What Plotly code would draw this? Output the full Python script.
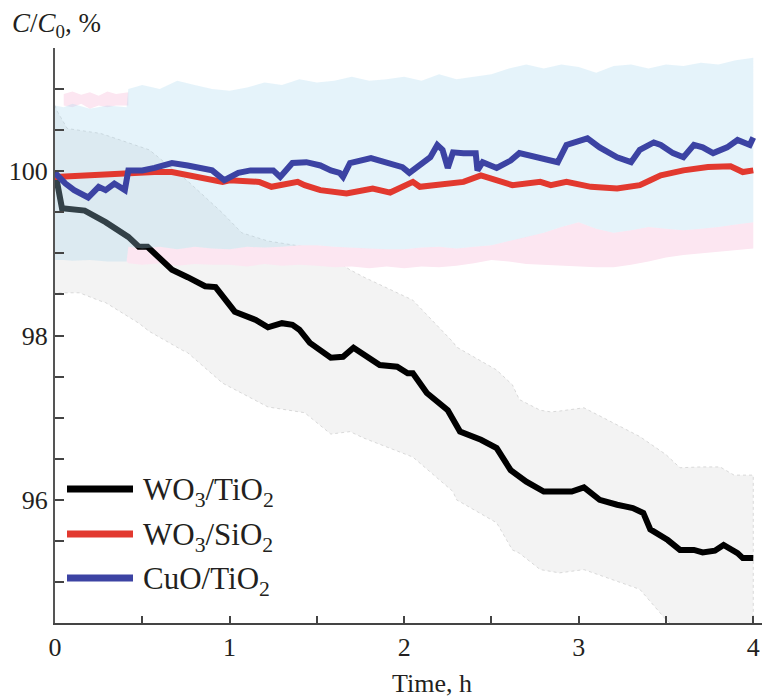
import plotly.graph_objects as go

# ---------------- data ----------------
series_names = ["WO<sub>3</sub>/TiO<sub>2</sub>", "WO<sub>3</sub>/SiO<sub>2</sub>", "CuO/TiO<sub>2</sub>"]
series_colors = ["#000000", "#e2392f", "#3c43a3"]

# WO3/TiO2 mean
t_wt = [0.00, 0.02, 0.04, 0.17, 0.29, 0.42, 0.48, 0.53, 0.57, 0.67, 0.76, 0.86, 0.92, 1.03, 1.15,
        1.22, 1.30, 1.36, 1.40, 1.46, 1.58, 1.65, 1.71, 1.86, 1.96, 2.02, 2.05, 2.13, 2.25, 2.32,
        2.44, 2.53, 2.61, 2.70, 2.80, 2.89, 2.96, 3.03, 3.12, 3.22, 3.31, 3.37, 3.41, 3.51, 3.58,
        3.66, 3.71, 3.78, 3.83, 3.91, 3.94, 4.00]
v_wt = [100.00, 99.80, 99.55, 99.52, 99.38, 99.20, 99.08, 99.08, 99.00, 98.80, 98.71, 98.60, 98.59, 98.29, 98.19,
        98.10, 98.15, 98.13, 98.07, 97.91, 97.73, 97.74, 97.85, 97.64, 97.62, 97.54, 97.54, 97.30, 97.09, 96.83,
        96.73, 96.63, 96.36, 96.22, 96.10, 96.10, 96.10, 96.15, 96.00, 95.94, 95.90, 95.84, 95.64, 95.51, 95.39,
        95.39, 95.36, 95.38, 95.45, 95.35, 95.29, 95.29]

# WO3/TiO2 spread band
tb_wt = [0.00, 0.01, 0.07, 0.14, 0.26, 0.29, 0.48, 0.54, 0.73, 0.76, 0.96, 1.07, 1.22, 1.43, 1.58,
         1.69, 1.77, 2.05, 2.28, 2.30, 2.53, 2.62, 2.66, 2.78, 2.84, 2.89, 3.03, 3.35, 3.50, 3.58,
         3.70, 3.81, 3.89, 4.00]
hi_wt = [100.80, 100.74, 100.52, 100.50, 100.46, 100.44, 100.30, 100.26, 99.93, 99.88, 99.49, 99.25, 99.15, 99.08, 98.95,
         98.80, 98.71, 98.43, 97.92, 97.86, 97.58, 97.40, 97.22, 97.09, 97.07, 97.08, 97.12, 96.77, 96.55, 96.39,
         96.40, 96.40, 96.30, 96.30]
lo_wt = [98.52, 98.52, 98.52, 98.52, 98.42, 98.40, 98.15, 98.05, 97.82, 97.79, 97.42, 97.30, 97.13, 97.06, 96.80,
         96.83, 96.75, 96.52, 96.10, 96.00, 95.72, 95.39, 95.35, 95.15, 95.13, 95.11, 95.15, 94.91, 94.54, 94.40,
         94.20, 94.10, 94.05, 94.00]

# WO3/SiO2 mean
t_ws = [0.00, 0.19, 0.38, 0.57, 0.67, 0.76, 0.96, 1.00, 1.15, 1.17, 1.24, 1.29, 1.34, 1.39, 1.43,
        1.52, 1.67, 1.77, 1.82, 1.92, 2.05, 2.09, 2.19, 2.34, 2.44, 2.53, 2.62, 2.78, 2.84, 2.93,
        3.07, 3.22, 3.35, 3.41, 3.47, 3.60, 3.74, 3.87, 3.94, 4.00]
v_ws = [99.93, 99.95, 99.98, 99.99, 99.99, 99.95, 99.87, 99.89, 99.87, 99.87, 99.81, 99.83, 99.85, 99.87, 99.83,
        99.77, 99.73, 99.77, 99.79, 99.74, 99.87, 99.81, 99.83, 99.87, 99.95, 99.89, 99.83, 99.87, 99.83, 99.87,
        99.81, 99.79, 99.83, 99.89, 99.95, 100.01, 100.05, 100.06, 99.99, 100.01]

# WO3/SiO2 spread band: visible upper edge (top-left) and visible lower strip
tb_ws_top = [0.05, 0.10, 0.15, 0.20, 0.25, 0.30, 0.35, 0.42]
hi_ws_top = [100.94, 100.97, 100.93, 100.96, 100.92, 100.97, 100.94, 100.96]
lo_ws_top = [100.80, 100.78, 100.82, 100.76, 100.80, 100.78, 100.80, 100.80]
tb_ws = [0.00, 0.05, 0.10, 0.20, 0.30, 0.41, 0.42, 0.50, 0.60, 0.70, 0.80, 0.90, 1.00, 1.10, 1.20,
         1.30, 1.40, 1.50, 1.60, 1.70, 1.80, 1.90, 2.00, 2.10, 2.20, 2.30, 2.40, 2.50, 2.60, 2.70,
         2.80, 2.90, 3.00, 3.10, 3.20, 3.30, 3.40, 3.50, 3.60, 3.70, 3.80, 3.90, 4.00]
lo_ws = [98.92, 98.92, 98.91, 98.92, 98.90, 98.90, 98.88, 98.86, 98.88, 98.85, 98.87, 98.86, 98.86, 98.84, 98.87,
         98.85, 98.86, 98.85, 98.83, 98.84, 98.82, 98.84, 98.82, 98.84, 98.83, 98.85, 98.88, 98.92, 98.90, 98.87,
         98.86, 98.85, 98.84, 98.83, 98.83, 98.86, 98.90, 98.95, 98.98, 99.00, 99.02, 99.04, 99.06]

# CuO/TiO2 mean
t_ct = [0.00, 0.06, 0.11, 0.19, 0.25, 0.29, 0.34, 0.38, 0.40, 0.42, 0.50, 0.57, 0.67, 0.76, 0.82,
        0.90, 0.97, 1.05, 1.12, 1.25, 1.29, 1.36, 1.44, 1.52, 1.58, 1.63, 1.65, 1.69, 1.81, 1.90,
        1.99, 2.03, 2.07, 2.15, 2.19, 2.22, 2.25, 2.28, 2.34, 2.41, 2.42, 2.45, 2.53, 2.61, 2.66,
        2.80, 2.88, 2.93, 3.05, 3.12, 3.22, 3.30, 3.35, 3.43, 3.47, 3.54, 3.60, 3.66, 3.71, 3.77,
        3.85, 3.91, 3.98, 4.00]
v_ct = [99.98, 99.85, 99.77, 99.68, 99.81, 99.77, 99.85, 99.81, 99.77, 100.01, 100.01, 100.04, 100.10, 100.07, 100.05,
        100.01, 99.89, 99.98, 100.01, 100.01, 99.93, 100.10, 100.11, 100.07, 100.01, 99.98, 99.93, 100.10, 100.16, 100.11,
        100.05, 99.98, 100.05, 100.17, 100.32, 100.26, 100.04, 100.23, 100.22, 100.22, 100.01, 100.11, 100.04, 100.13, 100.22,
        100.16, 100.11, 100.32, 100.40, 100.29, 100.17, 100.11, 100.26, 100.35, 100.32, 100.22, 100.17, 100.32, 100.29, 100.22,
        100.29, 100.38, 100.32, 100.41]

# CuO/TiO2 spread band
tb_ct = tb_ws
hi_ct = [100.80, 100.78, 100.82, 100.76, 100.80, 100.78, 101.00, 101.05, 101.00, 101.10, 101.05, 101.00, 100.98, 101.02, 101.08,
         101.05, 101.12, 101.08, 101.10, 101.15, 101.10, 101.12, 101.15, 101.10, 101.18, 101.12, 101.15, 101.18, 101.25, 101.30,
         101.25, 101.30, 101.27, 101.20, 101.28, 101.30, 101.25, 101.30, 101.28, 101.32, 101.30, 101.35, 101.38]
lo_ct = [98.92, 98.92, 98.91, 98.92, 98.90, 98.90, 99.08, 99.06, 99.08, 99.05, 99.08, 99.06, 99.05, 99.08, 99.07,
         99.08, 99.10, 99.10, 99.08, 99.07, 99.06, 99.05, 99.05, 99.07, 99.08, 99.06, 99.08, 99.10, 99.15, 99.20,
         99.25, 99.32, 99.38, 99.30, 99.25, 99.28, 99.32, 99.30, 99.28, 99.30, 99.32, 99.35, 99.38]

x_ticks = [0, 1, 2, 3, 4]
y_ticks = [96, 98, 100]

# ---------------- figure ----------------
FONT = "Liberation Serif, Times New Roman, serif"
TXT = "#231f20"
W, H = 762, 698
ML, MR, MT, MB = 55, 0, 48, 75
PW, PH = W - ML - MR, H - MT - MB


def px(xp):
    return (xp - ML) / PW


def py(yp):
    return (H - MB - yp) / PH


def band(t, hi, lo, fill, line=None):
    return go.Scatter(x=list(t) + list(t)[::-1], y=list(hi) + list(lo)[::-1],
                      fill="toself", fillcolor=fill, mode="lines",
                      line=line or dict(width=0, color="rgba(0,0,0,0)"),
                      hoverinfo="skip", showlegend=False)


fig = go.Figure()
fig.add_trace(band(tb_wt, hi_wt, lo_wt, "#f3f3f3", dict(width=0.8, color="#d0d0d0", dash="dot")))
fig.add_trace(band(tb_ws_top, hi_ws_top, lo_ws_top, "#fce6f1"))
fig.add_trace(band(tb_ws, lo_ct, lo_ws, "#fce6f1"))
fig.add_trace(go.Scatter(x=t_wt, y=v_wt, mode="lines", line=dict(color=series_colors[0], width=6),
                         name=series_names[0], showlegend=False))
fig.add_trace(band(tb_ct, hi_ct, lo_ct, "rgba(170,215,240,0.30)"))
fig.add_trace(go.Scatter(x=t_ws, y=v_ws, mode="lines", line=dict(color=series_colors[1], width=6),
                         name=series_names[1], showlegend=False))
fig.add_trace(go.Scatter(x=t_ct, y=v_ct, mode="lines", line=dict(color=series_colors[2], width=6),
                         name=series_names[2], showlegend=False))

# manual legend (long sample lines like the original)
leg_y = [489, 534, 578]
shapes = []
annotations = []
for name, col, yy in zip(series_names, series_colors, leg_y):
    shapes.append(dict(type="line", xref="paper", yref="paper", x0=px(67), x1=px(133),
                       y0=py(yy), y1=py(yy), line=dict(color=col, width=7)))
    annotations.append(dict(xref="paper", yref="paper", x=px(141), y=py(yy + 3), xanchor="left",
                            yanchor="middle", text=name, showarrow=False,
                            font=dict(family=FONT, size=31, color=TXT)))

annotations.append(dict(xref="paper", yref="paper", x=px(10), y=py(25), xanchor="left", yanchor="middle",
                        text="<i>C</i>/<i>C</i><sub>0</sub>, %", showarrow=False,
                        font=dict(family=FONT, size=27, color=TXT)))
annotations.append(dict(xref="paper", yref="paper", x=px(432), y=py(683), xanchor="center", yanchor="middle",
                        text="Time, h", showarrow=False, font=dict(family=FONT, size=26, color=TXT)))

fig.update_layout(
    width=W, height=H, margin=dict(l=ML, r=MR, t=MT, b=MB, autoexpand=False),
    paper_bgcolor="white", plot_bgcolor="white",
    font=dict(family=FONT, size=26, color=TXT),
    shapes=shapes, annotations=annotations, showlegend=False,
    xaxis=dict(range=[0, 4.05], tickvals=x_ticks, ticktext=[str(v) for v in x_ticks], automargin=False,
               ticks="inside", ticklen=7, tickwidth=1.5, tickcolor="#444",
               showline=True, linecolor="#444", linewidth=1.5, showgrid=False, zeroline=False,
               minor=dict(dtick=0.5, tick0=0, ticks="inside", ticklen=7, tickwidth=1.5, tickcolor="#444", showgrid=False),
               tickfont=dict(family=FONT, size=26, color=TXT)),
    yaxis=dict(range=[94.5, 101.5], tickvals=y_ticks, ticktext=[str(v) for v in y_ticks], automargin=False,
               ticks="inside", ticklen=9, tickwidth=1.5, tickcolor="#444",
               showline=True, linecolor="#555", linewidth=2, showgrid=False, zeroline=False,
               minor=dict(dtick=0.5, tick0=94.5, ticks="inside", ticklen=9, tickwidth=1.5, tickcolor="#444", showgrid=False),
               tickfont=dict(family=FONT, size=26, color=TXT)),
)

fig.write_html("out.html", config={"displayModeBar": False},
               post_script="document.body.style.margin='0';document.body.style.padding='0';")
